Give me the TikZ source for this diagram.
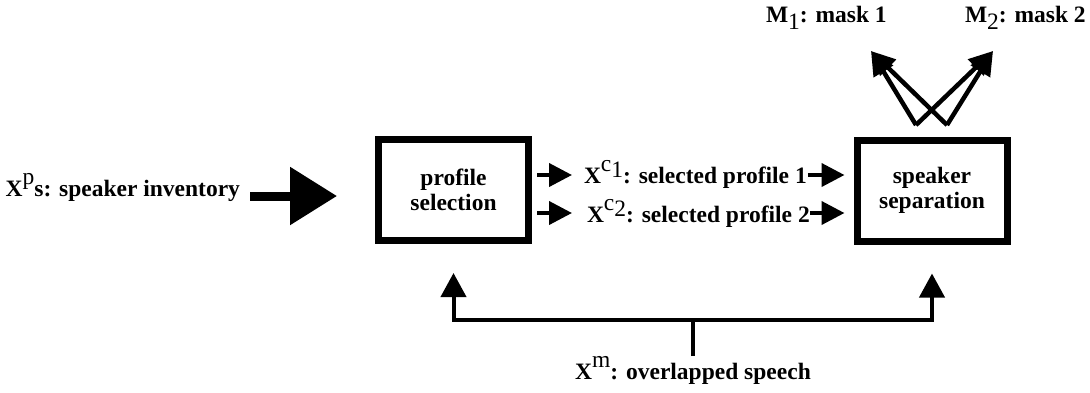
\documentclass[tikz,border=0pt]{standalone}
\usepackage{fontspec}
\setmainfont{Liberation Serif}
\usetikzlibrary{arrows.meta}
\newcommand\suptxt[1]{\raisebox{.5em}{\mdseries #1}}
\newcommand\subtxt[1]{\raisebox{-.3em}{\mdseries #1}}
\tikzset{
  block/.style={draw, line width=7pt, minimum width=150pt, minimum height=101pt,
    inner sep=0pt, outer sep=0pt, align=center},
  lbl/.style={inner sep=0pt, outer sep=0pt},
  bigarr/.style={line width=9pt, -{Triangle[length=47pt,width=56pt]}},
  arr/.style={line width=4pt, -{Triangle[length=23pt,width=23pt]}},
  uparr/.style={line width=4pt, -{Triangle[length=24pt,width=25pt]}},
  maskarr/.style={line width=4.5pt, -{Triangle[length=24pt,width=22pt]}}
}
\begin{document}
\begin{tikzpicture}[x=1pt,y=-1pt,font=\fontsize{23.5}{25}\selectfont\bfseries]
\useasboundingbox (0,0) rectangle (1090,392);
% the two blocks
\node[block] (pro) at (453.5,190) {profile\\selection};
\node[block] (sep) at (932,190.5) {speaker\\separation};
% inputs
\node[lbl, anchor=base east] (inv) at (240,196) {X\suptxt{p}s: speaker inventory};
\draw[bigarr, shorten <=10pt, shorten >=41.5pt] (inv.east |- 0,196) -- (pro.west |- 0,196);
\node[lbl, anchor=base west] (c1) at (584,183) {X\suptxt{c\raisebox{-.25em}{1}}: selected profile 1};
\node[lbl, anchor=base west] (c2) at (587,222) {X\suptxt{c\raisebox{-.25em}{2}}: selected profile 2};
\draw[arr, shorten <=8.5pt, shorten >=12pt] (pro.east |- 0,175) -- (c1.west |- 0,175);
\draw[arr, shorten <=1pt, shorten >=12.5pt] (c1.east |- 0,175) -- (sep.west |- 0,175);
\draw[arr, shorten <=8.5pt, shorten >=15pt] (pro.east |- 0,213) -- (c2.west |- 0,213);
\draw[arr, shorten >=12.5pt] (c2.east |- 0,213) -- (sep.west |- 0,213);
% masks
\node[lbl, anchor=base west] (m1) at (766,22) {M\subtxt{1}: mask 1};
\node[lbl, anchor=base west] (m2) at (965,22) {M\subtxt{2}: mask 2};
\coordinate (o1) at (916,125);
\coordinate (o2) at (947,125);
\coordinate (t1) at (871,51);
\coordinate (t2) at (993,51);
\draw[maskarr] (o1) -- (t1);
\draw[maskarr] (o2) -- (t1);
\draw[maskarr] (o1) -- (t2);
\draw[maskarr] (o2) -- (t2);
% mixture
\node[lbl, anchor=base] (xm) at (693,379) {X\suptxt{m}: overlapped speech};
\coordinate (join) at (693,320);
\draw[line width=4pt] (xm.north) -- (join);
\draw[uparr, shorten >=32.5pt] (join) -| (pro.south);
\draw[uparr, shorten >=32.5pt] (join) -| (sep.south);
\end{tikzpicture}
\end{document}
